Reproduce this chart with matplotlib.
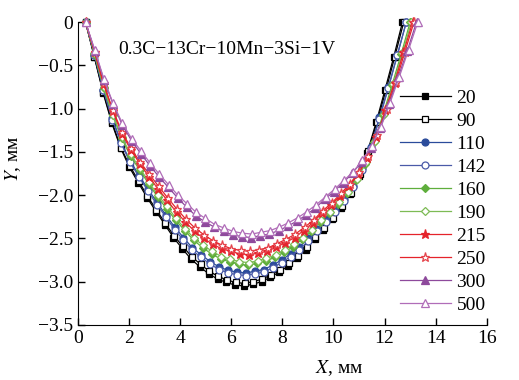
import matplotlib
matplotlib.use("Agg")
import matplotlib.pyplot as plt

plt.rcParams['font.family'] = ['Liberation Serif', 'DejaVu Serif']
plt.rcParams['mathtext.fontset'] = 'stix'

title_text = "0.3C\u221213Cr\u221210Mn\u22123Si\u22121V"
labels = ["20", "90", "110", "142", "160", "190", "215", "250", "300", "500"]

x_20 = [0.30, 0.64, 0.99, 1.33, 1.68, 2.02, 2.37, 2.71, 3.06, 3.40, 3.74, 4.09, 4.43, 4.78, 5.12, 5.47, 5.81, 6.16, 6.50, 6.84, 7.19, 7.53, 7.88, 8.22, 8.57, 8.91, 9.26, 9.60, 9.94, 10.29, 10.63, 10.98, 11.32, 11.67, 12.01, 12.36, 12.70]
y_20 = [0, -0.40, -0.82, -1.17, -1.46, -1.68, -1.86, -2.03, -2.19, -2.34, -2.49, -2.62, -2.74, -2.83, -2.91, -2.97, -3.01, -3.04, -3.05, -3.03, -3.00, -2.95, -2.89, -2.82, -2.73, -2.63, -2.51, -2.40, -2.28, -2.15, -1.99, -1.78, -1.51, -1.16, -0.79, -0.40, 0]

x_90 = [0.30, 0.65, 0.99, 1.34, 1.68, 2.03, 2.38, 2.72, 3.07, 3.41, 3.76, 4.10, 4.45, 4.80, 5.14, 5.49, 5.83, 6.18, 6.53, 6.87, 7.22, 7.56, 7.91, 8.25, 8.60, 8.95, 9.29, 9.64, 9.98, 10.33, 10.67, 11.02, 11.37, 11.71, 12.06, 12.40, 12.75]
y_90 = [0, -0.40, -0.81, -1.16, -1.45, -1.66, -1.84, -2.01, -2.17, -2.32, -2.47, -2.59, -2.71, -2.80, -2.88, -2.94, -2.98, -3.01, -3.02, -3.00, -2.97, -2.92, -2.86, -2.79, -2.70, -2.60, -2.48, -2.38, -2.26, -2.13, -1.97, -1.76, -1.49, -1.15, -0.78, -0.40, 0]

x_110 = [0.30, 0.65, 1.00, 1.35, 1.69, 2.04, 2.39, 2.74, 3.09, 3.44, 3.79, 4.13, 4.48, 4.83, 5.18, 5.53, 5.88, 6.23, 6.58, 6.92, 7.27, 7.62, 7.97, 8.32, 8.67, 9.02, 9.36, 9.71, 10.06, 10.41, 10.76, 11.11, 11.46, 11.80, 12.15, 12.50, 12.85]
y_110 = [0, -0.38, -0.78, -1.11, -1.39, -1.60, -1.77, -1.93, -2.08, -2.23, -2.37, -2.49, -2.61, -2.69, -2.77, -2.83, -2.87, -2.89, -2.90, -2.88, -2.86, -2.81, -2.75, -2.68, -2.60, -2.50, -2.39, -2.28, -2.17, -2.05, -1.89, -1.69, -1.44, -1.10, -0.75, -0.38, 0]

x_142 = [0.30, 0.65, 1.00, 1.35, 1.69, 2.04, 2.39, 2.74, 3.09, 3.44, 3.79, 4.13, 4.48, 4.83, 5.18, 5.53, 5.88, 6.23, 6.58, 6.92, 7.27, 7.62, 7.97, 8.32, 8.67, 9.02, 9.36, 9.71, 10.06, 10.41, 10.76, 11.11, 11.46, 11.80, 12.15, 12.50, 12.85]
y_142 = [0, -0.38, -0.79, -1.13, -1.40, -1.62, -1.79, -1.95, -2.11, -2.25, -2.40, -2.52, -2.64, -2.72, -2.80, -2.86, -2.90, -2.92, -2.93, -2.91, -2.89, -2.84, -2.78, -2.71, -2.63, -2.53, -2.41, -2.31, -2.19, -2.07, -1.91, -1.71, -1.45, -1.12, -0.76, -0.38, 0]

x_160 = [0.30, 0.65, 1.01, 1.36, 1.71, 2.06, 2.42, 2.77, 3.12, 3.48, 3.83, 4.18, 4.53, 4.89, 5.24, 5.59, 5.94, 6.30, 6.65, 7.00, 7.36, 7.71, 8.06, 8.41, 8.77, 9.12, 9.47, 9.82, 10.18, 10.53, 10.88, 11.24, 11.59, 11.94, 12.29, 12.65, 13.00]
y_160 = [0, -0.37, -0.76, -1.08, -1.34, -1.55, -1.71, -1.87, -2.02, -2.16, -2.29, -2.41, -2.52, -2.61, -2.68, -2.74, -2.77, -2.80, -2.81, -2.79, -2.76, -2.72, -2.66, -2.60, -2.51, -2.42, -2.31, -2.21, -2.10, -1.98, -1.83, -1.64, -1.39, -1.07, -0.73, -0.37, 0]

x_190 = [0.30, 0.65, 1.01, 1.36, 1.72, 2.07, 2.43, 2.78, 3.13, 3.49, 3.84, 4.20, 4.55, 4.90, 5.26, 5.61, 5.97, 6.32, 6.68, 7.03, 7.38, 7.74, 8.09, 8.45, 8.80, 9.15, 9.51, 9.86, 10.22, 10.57, 10.93, 11.28, 11.63, 11.99, 12.34, 12.70, 13.05]
y_190 = [0, -0.36, -0.75, -1.07, -1.33, -1.53, -1.69, -1.85, -2.00, -2.13, -2.27, -2.39, -2.50, -2.58, -2.65, -2.71, -2.74, -2.77, -2.78, -2.76, -2.73, -2.69, -2.63, -2.57, -2.49, -2.40, -2.29, -2.19, -2.08, -1.96, -1.81, -1.62, -1.38, -1.06, -0.72, -0.36, 0]

x_215 = [0.30, 0.66, 1.01, 1.37, 1.72, 2.08, 2.43, 2.79, 3.14, 3.50, 3.86, 4.21, 4.57, 4.92, 5.28, 5.63, 5.99, 6.34, 6.70, 7.06, 7.41, 7.77, 8.12, 8.48, 8.83, 9.19, 9.54, 9.90, 10.26, 10.61, 10.97, 11.32, 11.68, 12.03, 12.39, 12.74, 13.10]
y_215 = [0, -0.35, -0.72, -1.03, -1.29, -1.48, -1.64, -1.79, -1.93, -2.06, -2.20, -2.31, -2.42, -2.50, -2.57, -2.62, -2.65, -2.68, -2.69, -2.67, -2.65, -2.60, -2.55, -2.49, -2.41, -2.32, -2.21, -2.12, -2.01, -1.90, -1.76, -1.57, -1.33, -1.02, -0.70, -0.35, 0]

x_250 = [0.30, 0.66, 1.01, 1.37, 1.73, 2.08, 2.44, 2.80, 3.16, 3.51, 3.87, 4.23, 4.58, 4.94, 5.30, 5.65, 6.01, 6.37, 6.73, 7.08, 7.44, 7.80, 8.15, 8.51, 8.87, 9.22, 9.58, 9.94, 10.29, 10.65, 11.01, 11.37, 11.72, 12.08, 12.44, 12.79, 13.15]
y_250 = [0, -0.35, -0.71, -1.02, -1.27, -1.46, -1.62, -1.76, -1.90, -2.03, -2.16, -2.28, -2.38, -2.46, -2.53, -2.58, -2.62, -2.64, -2.65, -2.63, -2.61, -2.56, -2.51, -2.45, -2.37, -2.29, -2.18, -2.09, -1.98, -1.87, -1.73, -1.55, -1.31, -1.01, -0.69, -0.35, 0]

x_300 = [0.30, 0.66, 1.02, 1.38, 1.74, 2.10, 2.46, 2.82, 3.18, 3.54, 3.90, 4.26, 4.62, 4.98, 5.34, 5.70, 6.06, 6.42, 6.78, 7.13, 7.49, 7.85, 8.21, 8.57, 8.93, 9.29, 9.65, 10.01, 10.37, 10.73, 11.09, 11.45, 11.81, 12.17, 12.53, 12.89, 13.25]
y_300 = [0, -0.33, -0.67, -0.95, -1.19, -1.37, -1.52, -1.66, -1.79, -1.91, -2.03, -2.14, -2.24, -2.31, -2.37, -2.42, -2.46, -2.48, -2.49, -2.47, -2.45, -2.41, -2.36, -2.30, -2.23, -2.15, -2.05, -1.96, -1.86, -1.75, -1.62, -1.45, -1.23, -0.95, -0.64, -0.33, 0]

x_500 = [0.30, 0.66, 1.02, 1.38, 1.74, 2.11, 2.47, 2.83, 3.19, 3.55, 3.91, 4.27, 4.63, 4.99, 5.36, 5.72, 6.08, 6.44, 6.80, 7.16, 7.52, 7.88, 8.24, 8.61, 8.97, 9.33, 9.69, 10.05, 10.41, 10.77, 11.13, 11.49, 11.86, 12.22, 12.58, 12.94, 13.30]
y_500 = [0, -0.32, -0.66, -0.94, -1.17, -1.35, -1.49, -1.63, -1.76, -1.88, -2.00, -2.10, -2.20, -2.27, -2.34, -2.38, -2.42, -2.44, -2.45, -2.43, -2.41, -2.37, -2.32, -2.26, -2.19, -2.11, -2.02, -1.93, -1.83, -1.73, -1.60, -1.43, -1.21, -0.93, -0.63, -0.32, 0]

xs = [x_20, x_90, x_110, x_142, x_160, x_190, x_215, x_250, x_300, x_500]
ys = [y_20, y_90, y_110, y_142, y_160, y_190, y_215, y_250, y_300, y_500]

styles = [
    dict(color='#000000', marker='s', mfc='#000000', mec='#000000'),
    dict(color='#000000', marker='s', mfc='white', mec='#000000'),
    dict(color='#2b4c9b', marker='o', mfc='#2b4c9b', mec='#2b4c9b'),
    dict(color='#4a5aa8', marker='o', mfc='white', mec='#4a5aa8'),
    dict(color='#5fae3c', marker='D', mfc='#5fae3c', mec='#5fae3c'),
    dict(color='#7dbb55', marker='D', mfc='white', mec='#7dbb55'),
    dict(color='#e5232b', marker='*', mfc='#e5232b', mec='#e5232b'),
    dict(color='#e5232b', marker='*', mfc='white', mec='#e5434b'),
    dict(color='#8e4a9c', marker='^', mfc='#8e4a9c', mec='#8e4a9c'),
    dict(color='#b06db8', marker='^', mfc='white', mec='#b06db8'),
]
msizes = [5, 5, 5, 5, 4.2, 4.2, 6.5, 6.5, 5.5, 5.5]

fig = plt.figure(figsize=(5.19, 3.80), dpi=100)
ax = fig.add_axes([0.150, 0.145, 0.788, 0.797])

for x, y, lab, st, ms in zip(xs, ys, labels, styles, msizes):
    ax.plot(x, y, lw=0.9, ms=ms, mew=0.9, label=lab, clip_on=False, **st)

ax.set_xlim(0, 16)
ax.set_ylim(-3.5, 0)
ax.set_xticks(range(0, 17, 2))
yt = [0, -0.5, -1.0, -1.5, -2.0, -2.5, -3.0, -3.5]
ax.set_yticks(yt)
ax.set_yticklabels(["0"] + [("\u2212%.1f" % abs(v)) for v in yt[1:]])
ax.tick_params(direction='in', labelsize=14, length=5, width=1)
ax.spines['top'].set_visible(False)
ax.spines['right'].set_visible(False)

ax.set_xlabel("$X$, мм", fontsize=14, labelpad=0)
ax.set_ylabel("$Y$, мм", fontsize=14, labelpad=2)
ax.xaxis.set_label_coords(0.64, -0.11)
ax.yaxis.set_label_coords(-0.135, 0.55)

ax.text(0.10, 0.895, title_text, transform=ax.transAxes, fontsize=14)

leg = ax.legend(loc='upper left', bbox_to_anchor=(0.771, 0.764), bbox_transform=fig.transFigure,
                frameon=False, fontsize=14, numpoints=1, handlelength=2.6,
                handletextpad=0.3, labelspacing=0.275, borderpad=0, borderaxespad=0)

fig.savefig("out.png", dpi=100)
